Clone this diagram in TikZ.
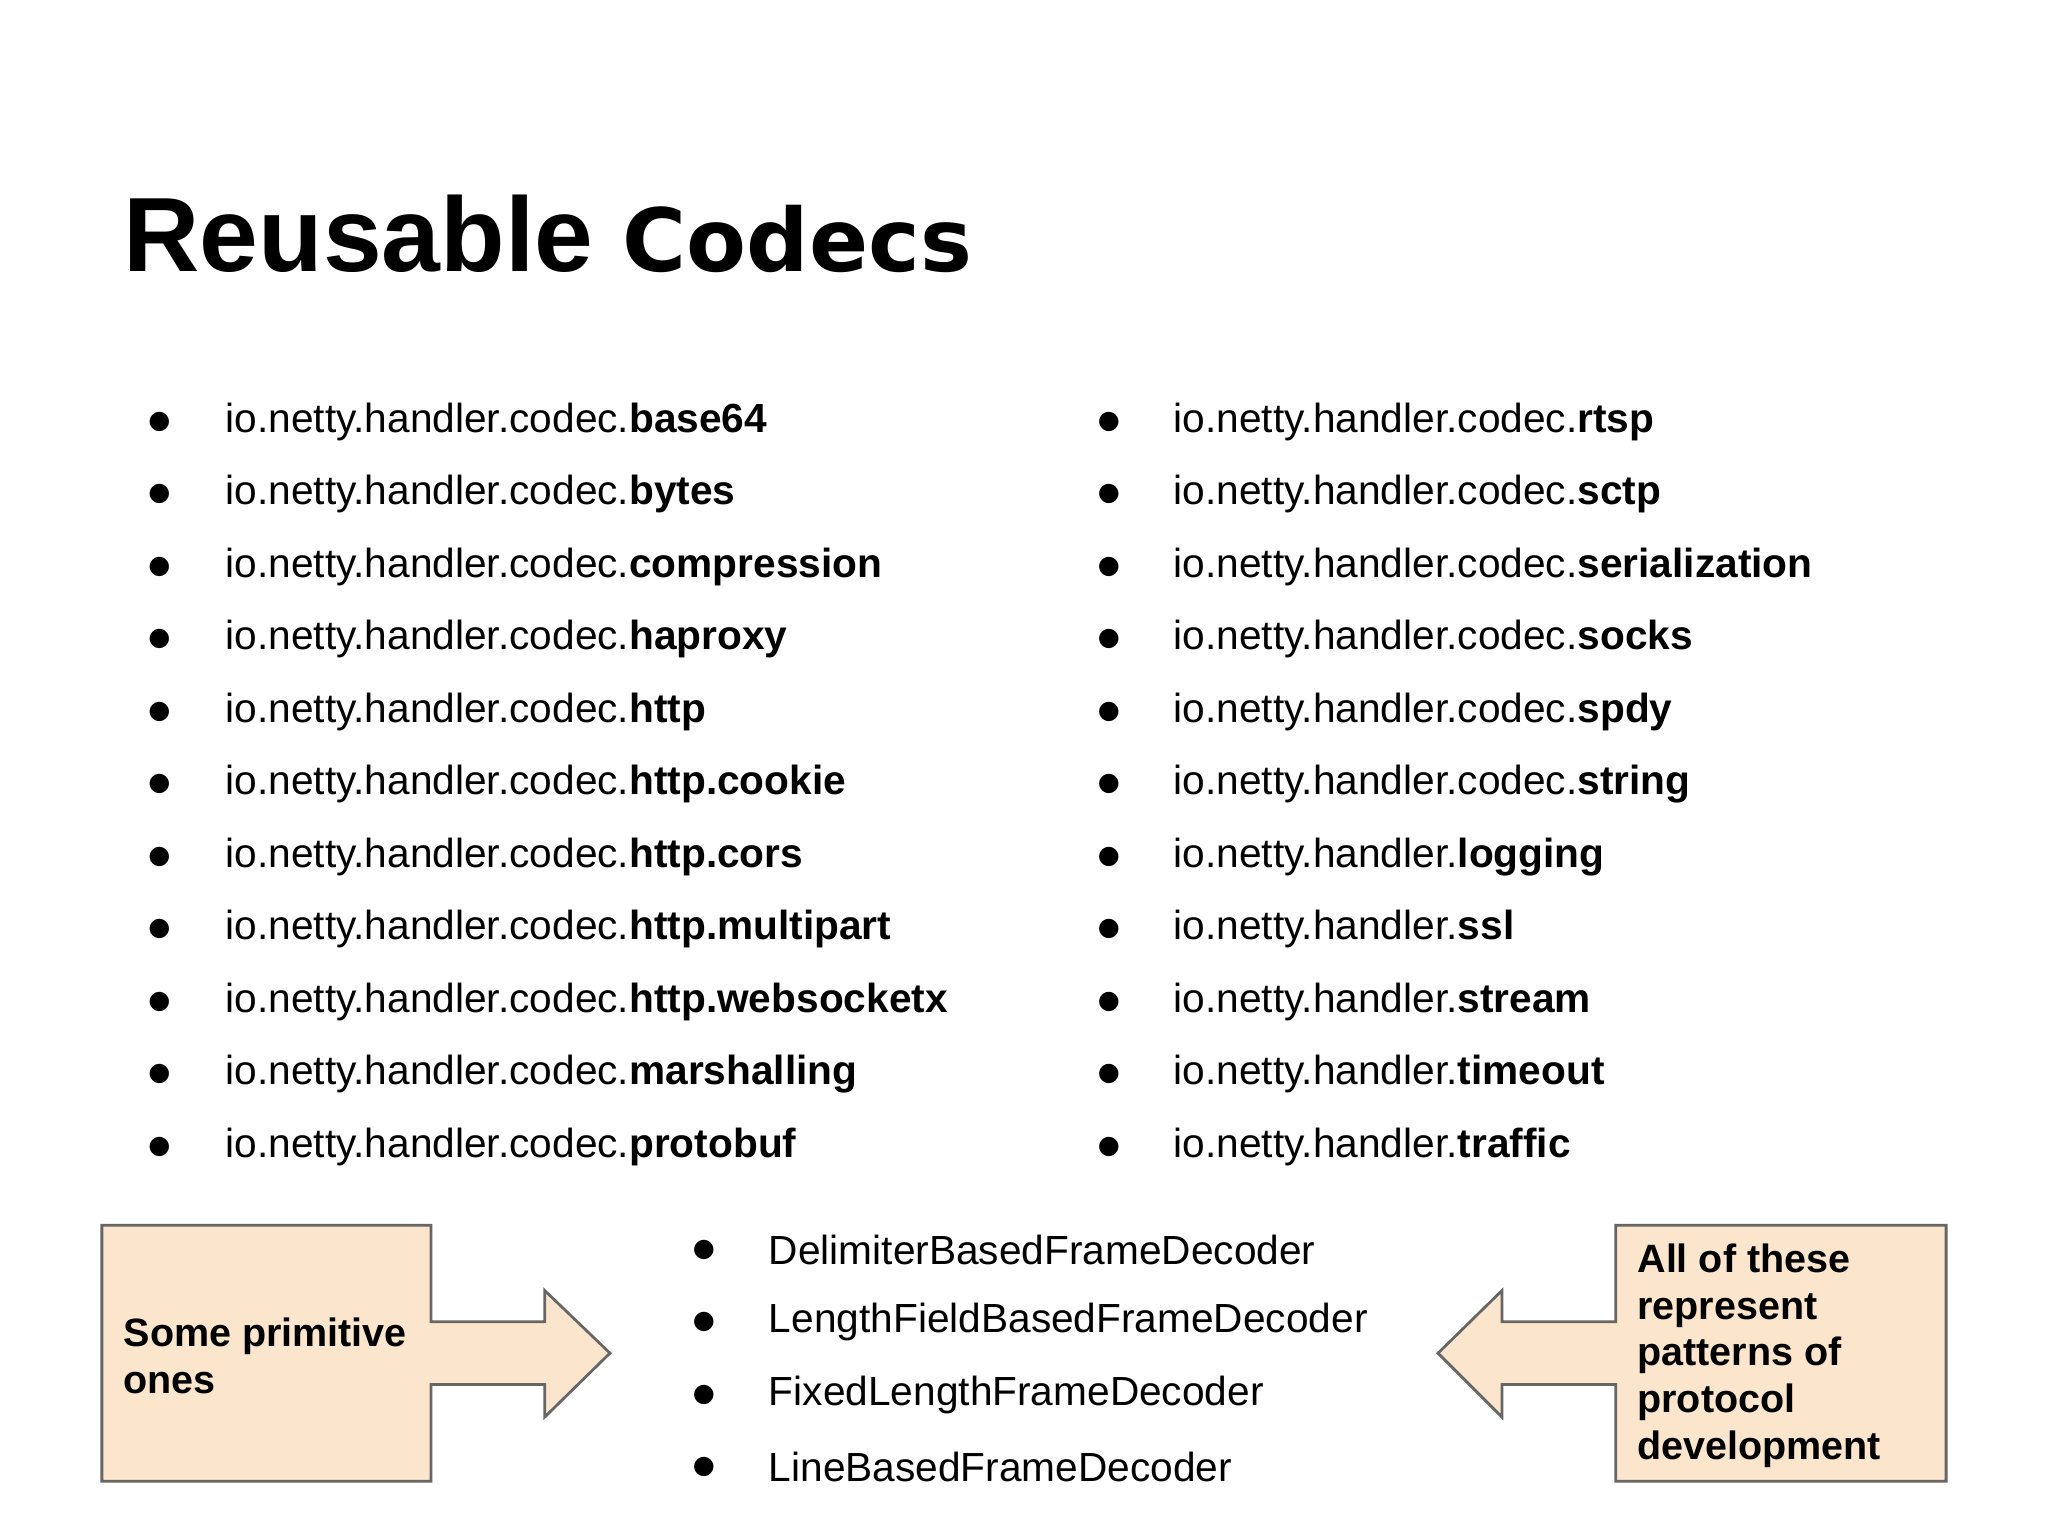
\documentclass[tikz,border=0pt]{standalone}
\usepackage{fontspec}
\setmainfont{Liberation Sans}
\newfontfamily\titlefont{DejaVu Sans}
\usepackage{tikz}
\definecolor{boxfill}{HTML}{FCE5CD}
\definecolor{boxline}{HTML}{666666}
\newcommand{\pkg}{io.netty.handler.codec.}
\newcommand{\hdl}{io.netty.handler.}
\tikzset{
  item/.style={anchor=west, inner sep=0pt, font=\fontsize{8.85pt}{10pt}\selectfont},
  dot/.style={anchor=center, inner sep=0pt, font=\titlefont\fontsize{5.5pt}{6pt}\selectfont},
  callout/.style={fill=boxfill, draw=boxline, line width=0.6pt},
  calltext/.style={anchor=west, inner sep=0pt, align=left, font=\fontsize{8.6pt}{10.2pt}\selectfont\bfseries}
}
\begin{document}
\begin{tikzpicture}[x=0.01cm, y=-0.01cm]
    \useasboundingbox (0,0) rectangle (1568,1176);
    % --- --- --- Title
    \node[anchor=base west, inner sep=0pt, font=\fontsize{23pt}{28pt}\selectfont\bfseries] (title) at (94,208)
        {Reusable {\titlefont\fontsize{19pt}{24pt}\selectfont Codecs}};
    % --- --- --- Left column
    \foreach \name [count=\i from 0] in {base64,bytes,compression,haproxy,http,http.cookie,http.cors,http.multipart,http.websocketx,marshalling,protobuf}{
        \node[dot] (ldot\i) at (122,{323+55.5*\i}) {●};
        \node[item] (left\i) at (172,{323+55.5*\i}) {\pkg\textbf{\name}};
    }
    % --- --- --- Right column
    \foreach \pre/\name [count=\i from 0] in {\pkg/rtsp,\pkg/sctp,\pkg/serialization,\pkg/socks,\pkg/spdy,\pkg/string,\hdl/logging,\hdl/ssl,\hdl/stream,\hdl/timeout,\hdl/traffic}{
        \node[dot] (rdot\i) at (849,{323+55.5*\i}) {●};
        \node[item] (right\i) at (898,{323+55.5*\i}) {\pre\textbf{\name}};
    }
    % --- --- --- Frame decoders
    \foreach \name [count=\i from 0] in {DelimiterBasedFrameDecoder,LengthFieldBasedFrameDecoder,FixedLengthFrameDecoder,LineBasedFrameDecoder}{
        \node[dot] (bdot\i) at (539,{957+55.5*\i}) {●};
        \node[item] (dec\i) at (588,{957+55.5*\i}) {\name};
    }
    % === === === Left callout
    \draw[callout] (78,938) -- (330,938) -- (330,1012) -- (417,1012) -- (417,988) -- (467,1036)
        -- (417,1085) -- (417,1060) -- (330,1060) -- (330,1134) -- (78,1134) -- cycle;
    \node[calltext] (prim) at (94,1038) {Some primitive\\ones};
    % === === === Right callout
    \draw[callout] (1490,938) -- (1237,938) -- (1237,1012) -- (1150,1012) -- (1150,988) -- (1101,1036)
        -- (1150,1085) -- (1150,1060) -- (1237,1060) -- (1237,1134) -- (1490,1134) -- cycle;
    \node[calltext] (patt) at (1253,1038) {All of these\\represent\\patterns of\\protocol\\development};
\end{tikzpicture}
\end{document}
